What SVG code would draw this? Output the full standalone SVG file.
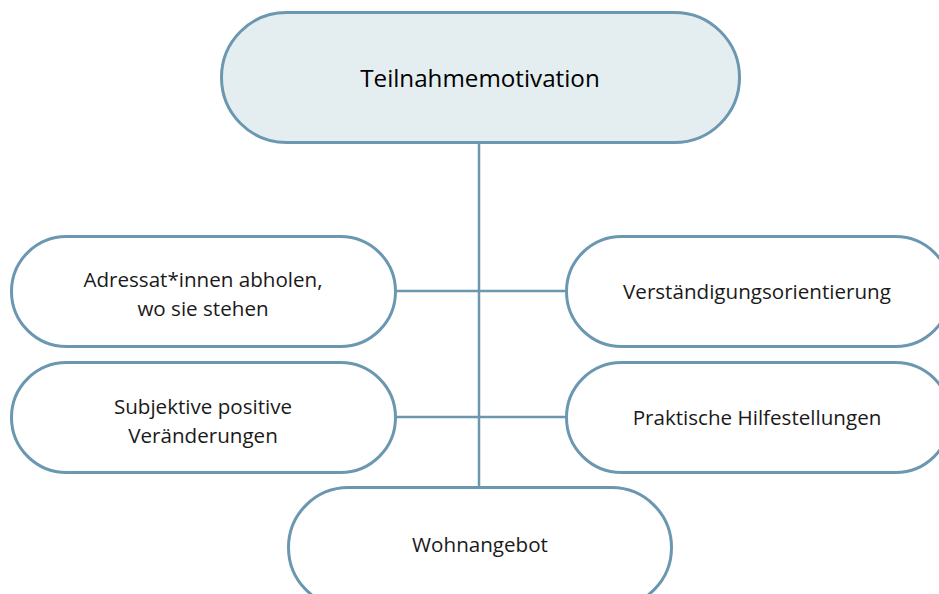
<svg xmlns="http://www.w3.org/2000/svg" width="939" height="594" viewBox="0 0 939 594">
  <style>
    .box { fill: #ffffff; stroke: #6b97b1; stroke-width: 3; }
    .root { fill: #e4edef; }
    .link { stroke: #6b97b1; stroke-width: 2.5; fill: none; }
    text { font-family: "Open Sans", Lato, sans-serif; font-size: 20.6px; fill: #1a1a1a; text-anchor: middle; }
    .title { font-size: 24.2px; fill: #000000; }
  </style>
  <rect width="939" height="594" fill="#ffffff"/>
  <g id="connectors">
    <line class="link" x1="479" y1="142" x2="479" y2="488"/>
    <line class="link" x1="395" y1="291" x2="567" y2="291"/>
    <line class="link" x1="395" y1="417" x2="567" y2="417"/>
  </g>
  <g id="teilnahmemotivation">
    <rect class="box root" x="221.5" y="12.5" width="518" height="130" rx="65" ry="65"/>
    <text class="title" x="480" y="87">Teilnahmemotivation</text>
  </g>
  <g id="adressaten">
    <rect class="box" x="11.5" y="236.5" width="384" height="110" rx="55" ry="55"/>
    <text x="203" y="287">Adressat*innen abholen,</text>
    <text x="203" y="316">wo sie stehen</text>
  </g>
  <g id="verstaendigung">
    <rect class="box" x="566.5" y="236.5" width="384" height="110" rx="55" ry="55"/>
    <text x="757" y="299">Verständigungsorientierung</text>
  </g>
  <g id="veraenderungen">
    <rect class="box" x="11.5" y="362.5" width="384" height="110" rx="55" ry="55"/>
    <text x="203" y="414">Subjektive positive</text>
    <text x="203" y="443">Veränderungen</text>
  </g>
  <g id="hilfestellungen">
    <rect class="box" x="566.5" y="362.5" width="384" height="110" rx="55" ry="55"/>
    <text x="757" y="425">Praktische Hilfestellungen</text>
  </g>
  <g id="wohnangebot">
    <rect class="box" x="288.5" y="487.5" width="383" height="120" rx="60" ry="60"/>
    <text x="480" y="552">Wohnangebot</text>
  </g>
</svg>
